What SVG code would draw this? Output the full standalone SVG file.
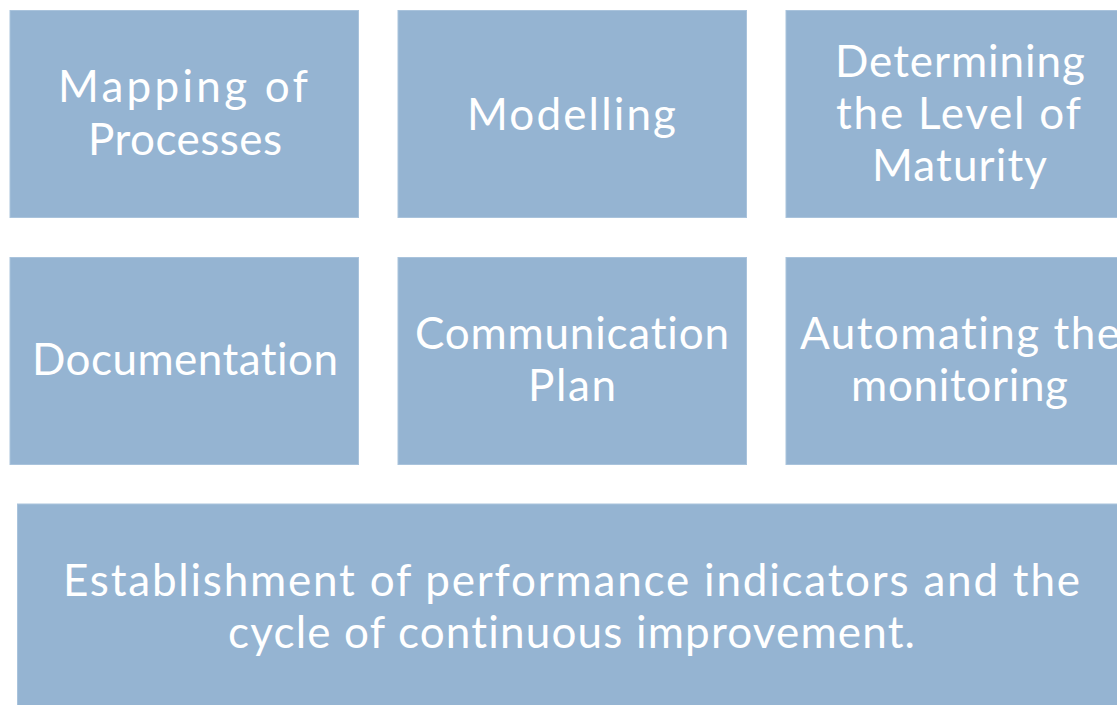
<svg xmlns="http://www.w3.org/2000/svg" width="1117" height="705" viewBox="0 0 1117 705">
<style>
.box{fill:#95B4D2;stroke:#A9C3DC;stroke-width:1}
.t{font-family:Lato,"Open Sans","DejaVu Sans",sans-serif;font-size:44px;fill:#FFFFFF;text-anchor:middle;font-variant-ligatures:none;font-feature-settings:"liga" 0,"dlig" 0,"clig" 0}
</style>
<rect width="1117" height="705" fill="#FFFFFF"/>
<g id="connectors"></g>
<g id="mapping">
<rect class="box" x="10" y="10.5" width="348.5" height="207"/>
<text class="t" x="183" y="102" textLength="250">Mapping of</text>
<text class="t" x="185" y="155" textLength="194">Processes</text>
</g>
<g id="modelling">
<rect class="box" x="398" y="10.5" width="348.5" height="207"/>
<text class="t" x="571.5" y="130" textLength="209">Modelling</text>
</g>
<g id="maturity">
<rect class="box" x="786" y="10.5" width="348.5" height="207"/>
<text class="t" x="960" y="77" textLength="250">Determining</text>
<text class="t" x="958.5" y="129" textLength="245">the Level of</text>
<text class="t" x="959.5" y="181" textLength="175">Maturity</text>
</g>
<g id="documentation">
<rect class="box" x="10" y="257.5" width="348.5" height="207"/>
<text class="t" x="185" y="375" textLength="306">Documentation</text>
</g>
<g id="communication">
<rect class="box" x="398" y="257.5" width="348.5" height="207"/>
<text class="t" x="572" y="349" textLength="314">Communication</text>
<text class="t" x="572" y="401" textLength="88">Plan</text>
</g>
<g id="automating">
<rect class="box" x="786" y="257.5" width="348.5" height="207"/>
<text class="t" x="960" y="349" textLength="320">Automating the</text>
<text class="t" x="959.5" y="401" textLength="217">monitoring</text>
</g>
<g id="establishment">
<rect class="box" x="17.5" y="504" width="1107" height="210"/>
<text class="t" x="571.5" y="596" textLength="1017">Establishment of performance indicators and the</text>
<text class="t" x="571.5" y="648" textLength="687">cycle of continuous improvement.</text>
</g>
</svg>
